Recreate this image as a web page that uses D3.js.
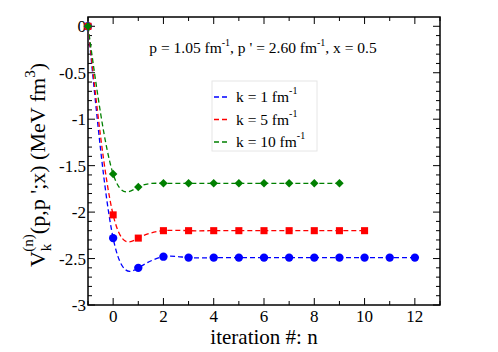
<!DOCTYPE html>
<html lang="en">
<head>
<meta charset="utf-8">
<script src="https://d3js.org/d3.v7.min.js"></script>
<style>
body { margin: 0; background: #fff; }
svg text { font-family: "Liberation Serif", "DejaVu Serif", serif; }
</style>
</head>
<body>
<script>
// iteration numbers and V_k^(n) values
const nBlue  = [-1, 0, 1, 2, 3, 4, 5, 6, 7, 8, 9, 10, 11, 12];
const vBlue  = [0, -2.28, -2.60, -2.48, -2.49, -2.49, -2.49, -2.49, -2.49, -2.49, -2.49, -2.49, -2.49, -2.49];
const nRed   = [-1, 0, 1, 2, 3, 4, 5, 6, 7, 8, 9, 10];
const vRed   = [0, -2.03, -2.28, -2.20, -2.20, -2.20, -2.20, -2.20, -2.20, -2.20, -2.20, -2.20];
const nGreen = [-1, 0, 1, 2, 3, 4, 5, 6, 7, 8, 9];
const vGreen = [0, -1.59, -1.73, -1.69, -1.69, -1.69, -1.69, -1.69, -1.69, -1.69, -1.69];

const xTicks = [0, 2, 4, 6, 8, 10, 12];
const yTicks = [0, -0.5, -1, -1.5, -2, -2.5, -3];
const legendLabels = ["k = 1 fm", "k = 5 fm", "k = 10 fm"];

const width = 498, height = 352;
const margin = {left: 88, right: 58, top: 17, bottom: 47};

const svg = d3.select("body").append("svg")
  .attr("width", width).attr("height", height)
  .attr("font-family", "Liberation Serif, DejaVu Serif, serif");

const x = d3.scaleLinear().domain([-1, 13]).range([margin.left, width - margin.right]);
const y = d3.scaleLinear().domain([-3, 0.1]).range([height - margin.bottom, margin.top]);

const x0 = margin.left, x1 = width - margin.right;
const y0 = height - margin.bottom, y1 = margin.top;

// ticks (inward, on all four sides)
const g = svg.append("g").attr("stroke", "#000").attr("stroke-width", 1);
d3.range(-1, 14, 1).forEach(v => {
  const len = (v % 2 === 0) ? 7 : 4;
  g.append("line").attr("x1", x(v)).attr("x2", x(v)).attr("y1", y0).attr("y2", y0 - len);
  g.append("line").attr("x1", x(v)).attr("x2", x(v)).attr("y1", y1).attr("y2", y1 + len);
});
d3.range(-30, 1, 1).forEach(i => {
  const v = i / 10;
  const len = (i % 5 === 0) ? 7 : 4;
  g.append("line").attr("x1", x0).attr("x2", x0 + len).attr("y1", y(v)).attr("y2", y(v));
  g.append("line").attr("x1", x1).attr("x2", x1 - len).attr("y1", y(v)).attr("y2", y(v));
});

svg.append("rect").attr("x", x0).attr("y", y1)
  .attr("width", x1 - x0).attr("height", y0 - y1)
  .attr("fill", "none").attr("stroke", "#000").attr("stroke-width", 1.5);

// tick labels
svg.selectAll(".xt").data(xTicks).enter().append("text")
  .attr("x", d => x(d)).attr("y", y0 + 17)
  .attr("text-anchor", "middle").attr("font-size", 17).text(d => d);
svg.selectAll(".yt").data(yTicks).enter().append("text")
  .attr("x", x0 - 2).attr("y", d => y(d) + 6)
  .attr("text-anchor", "end").attr("font-size", 17).text(d => d);

// axis titles
svg.append("text").attr("x", (x0 + x1) / 2).attr("y", 344)
  .attr("text-anchor", "middle").attr("font-size", 21).text("iteration #: n");

const yl = svg.append("text")
  .attr("transform", "translate(45," + ((y0 + y1) / 2 + 4) + ") rotate(-90)")
  .attr("text-anchor", "middle").attr("font-size", 22);
yl.append("tspan").text("V");
yl.append("tspan").attr("font-size", 15).attr("dy", 6).text("k");
yl.append("tspan").attr("font-size", 15).attr("dx", -8).attr("dy", -18).text("(n)");
yl.append("tspan").attr("dy", 12).text("(p,p ';x) (MeV fm");
yl.append("tspan").attr("font-size", 15).attr("dy", -10).text("3");
yl.append("tspan").attr("dy", 10).text(")");

// annotation
const ann = svg.append("text").attr("x", 263).attr("y", 53)
  .attr("text-anchor", "middle").attr("font-size", 15.5);
ann.append("tspan").text("p = 1.05 fm");
ann.append("tspan").attr("font-size", 10).attr("dy", -7).text("-1");
ann.append("tspan").attr("dy", 7).text(", p ' = 2.60 fm");
ann.append("tspan").attr("font-size", 10).attr("dy", -7).text("-1");
ann.append("tspan").attr("dy", 7).text(", x = 0.5");

// series
const series = [
  {n: nBlue, v: vBlue, color: "#0000ff", shape: d3.symbolCircle, size: 55, rot: 0},
  {n: nRed, v: vRed, color: "#ff0000", shape: d3.symbolSquare, size: 50, rot: 0},
  {n: nGreen, v: vGreen, color: "#008000", shape: d3.symbolSquare, size: 36, rot: 45}
];

const line = d3.line().curve(d3.curveNatural)
  .x(d => x(d[0])).y(d => y(d[1]));

series.forEach(s => {
  const pts = s.n.map((n, i) => [n, s.v[i]]);
  svg.append("path").datum(pts).attr("d", line)
    .attr("fill", "none").attr("stroke", s.color).attr("stroke-width", 1.3)
    .attr("stroke-dasharray", "5,3");
  svg.selectAll(null).data(pts).enter().append("path")
    .attr("d", d3.symbol().type(s.shape).size(s.size))
    .attr("transform", d => "translate(" + x(d[0]) + "," + y(d[1]) + ") rotate(" + s.rot + ")")
    .attr("fill", s.color);
});

// legend
svg.append("rect").attr("x", 212).attr("y", 81).attr("width", 105).attr("height", 70)
  .attr("fill", "#fff").attr("stroke", "#e6e6e6").attr("stroke-width", 1);
series.forEach((s, i) => {
  const ly = 97 + i * 22.5;
  svg.append("line").attr("x1", 214).attr("x2", 229).attr("y1", ly).attr("y2", ly)
    .attr("stroke", s.color).attr("stroke-width", 1.3).attr("stroke-dasharray", "5,3");
  const t = svg.append("text").attr("x", 236).attr("y", ly + 5).attr("font-size", 15.5);
  t.append("tspan").text(legendLabels[i]);
  t.append("tspan").attr("font-size", 10).attr("dy", -8).text("-1");
});
</script>
</body>
</html>
